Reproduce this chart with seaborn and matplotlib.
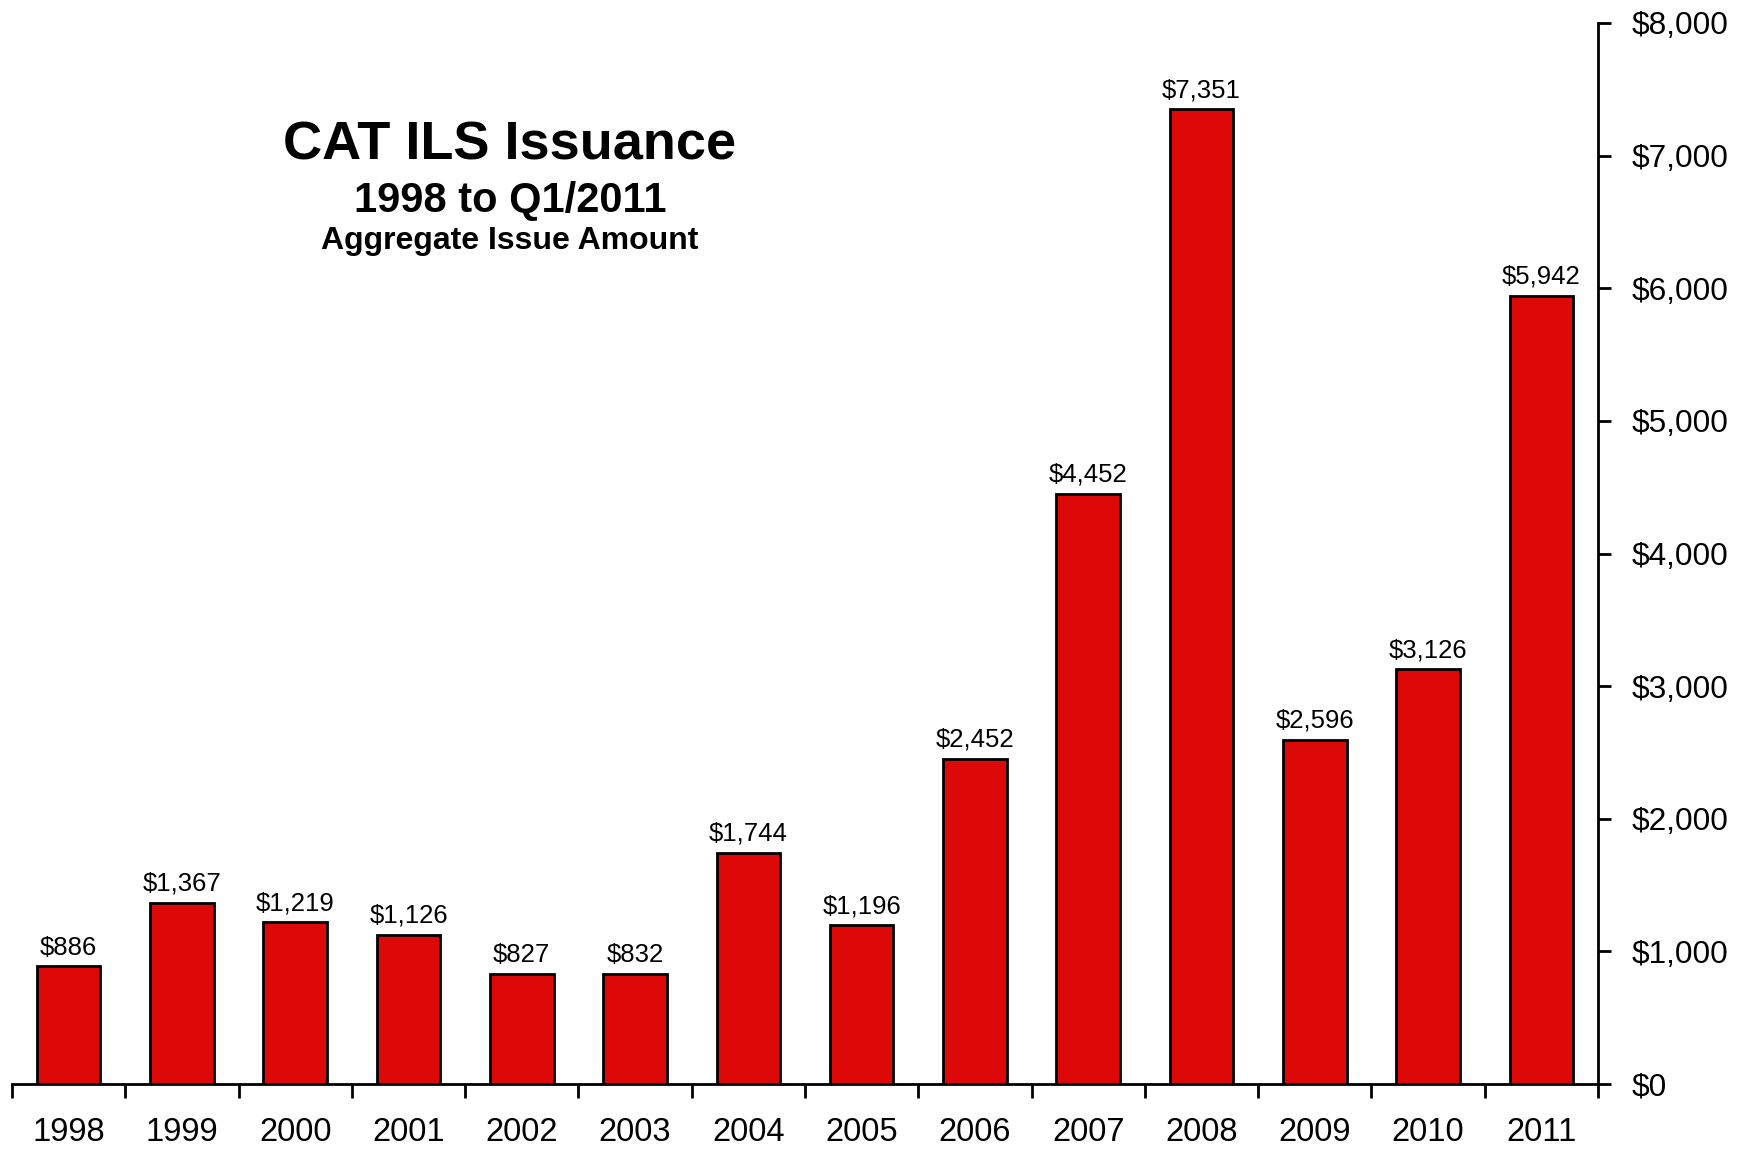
import matplotlib
matplotlib.use("Agg")
import matplotlib.pyplot as plt
import seaborn as sns
import pandas as pd
import numpy as np
from matplotlib.ticker import FuncFormatter, FixedLocator

years = ["1998", "1999", "2000", "2001", "2002", "2003", "2004",
         "2005", "2006", "2007", "2008", "2009", "2010", "2011"]
issuance = [886, 1367, 1219, 1126, 827, 832, 1744,
            1196, 2452, 4452, 7351, 2596, 3126, 5942]
y_ticks = [0, 1000, 2000, 3000, 4000, 5000, 6000, 7000, 8000]

sns.set_style("white")
plt.rcParams["font.family"] = ["Liberation Sans", "DejaVu Sans"]
plt.rcParams["text.color"] = "black"
plt.rcParams["xtick.color"] = "black"
plt.rcParams["ytick.color"] = "black"

df = pd.DataFrame({"year": years, "amount": issuance})

fig = plt.figure(figsize=(17.48, 11.49), dpi=100)
ax = fig.add_axes([12 / 1748, 65 / 1149, (1598 - 12) / 1748, (1126 - 65) / 1149])

sns.barplot(data=df, x="year", y="amount", color="#DD0808", saturation=1,
            width=0.56, edgecolor="black", linewidth=2, ax=ax)

ax.set_xlim(-0.5, len(years) - 0.5)
ax.set_ylim(0, 8000)

# value labels above each bar
for cont in ax.containers:
    ax.bar_label(cont, labels=[f"${v:,.0f}" for v in issuance],
                 padding=5, fontsize=18.5, color="black")

# spines: only bottom baseline and right value axis
for side in ["top", "left"]:
    ax.spines[side].set_visible(False)
for side in ["bottom", "right"]:
    ax.spines[side].set_visible(True)
    ax.spines[side].set_color("black")
    ax.spines[side].set_linewidth(2)

# right-hand dollar axis
ax.yaxis.tick_right()
ax.yaxis.set_major_locator(FixedLocator(y_ticks))
ax.yaxis.set_major_formatter(FuncFormatter(lambda v, p: f"${v:,.0f}"))
ax.tick_params(axis="y", which="major", direction="out", length=9, width=2,
               pad=15, labelsize=22.8, colors="black", left=False, right=True)
ax.set_ylabel("")

# category boundaries get tick marks, labels sit at centers
ax.set_xticks(np.arange(-0.5, len(years) + 0.5, 1.0), minor=True)
ax.tick_params(axis="x", which="minor", direction="out", length=10, width=2,
               bottom=True, colors="black")
ax.tick_params(axis="x", which="major", length=0, pad=24, labelsize=23.5,
               colors="black")
ax.set_xlabel("")
ax.grid(False)

fig.text(510 / 1748, 1 - 146 / 1149, "CAT ILS Issuance", ha="center",
         va="center", fontsize=39, fontweight="bold", color="black")
fig.text(510 / 1748, 1 - 201 / 1149, "1998 to Q1/2011", ha="center",
         va="center", fontsize=30, fontweight="bold", color="black")
fig.text(510 / 1748, 1 - 241 / 1149, "Aggregate Issue Amount", ha="center",
         va="center", fontsize=23, fontweight="bold", color="black")

fig.savefig("out.png", dpi=100, facecolor="white")
